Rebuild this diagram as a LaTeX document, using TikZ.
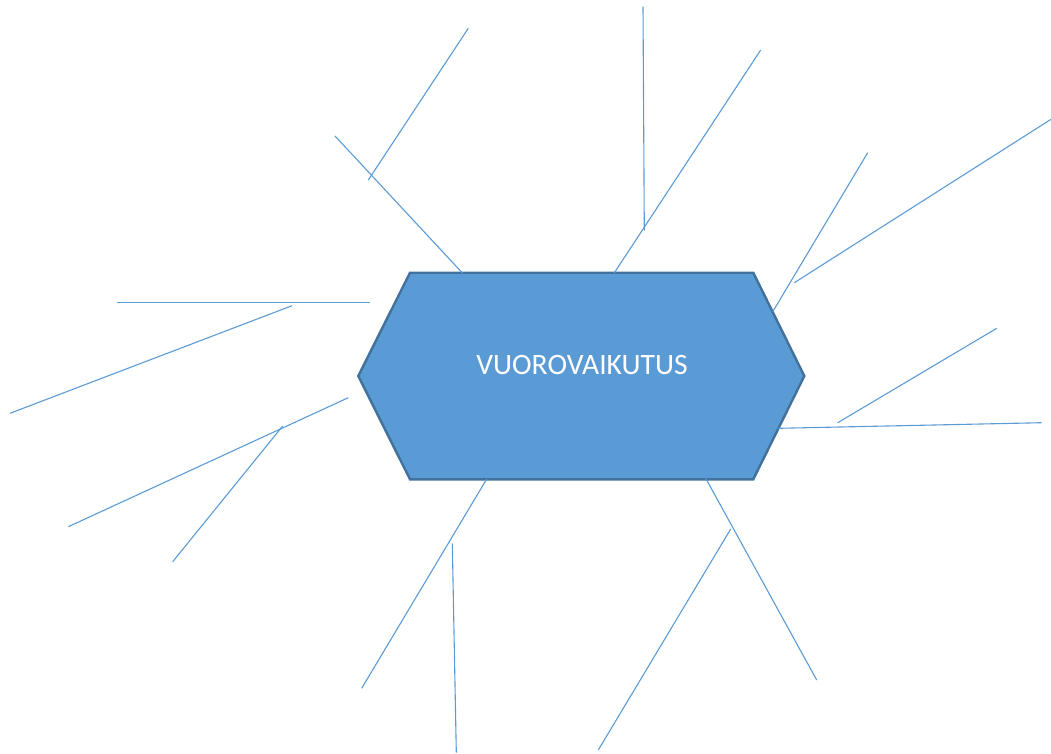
\documentclass[tikz,border=0pt]{standalone}
\usepackage{fontspec}
\setmainfont{Carlito}
\definecolor{lineblue}{HTML}{5B9BD5}
\definecolor{hexfill}{HTML}{5B9BD5}
\definecolor{hexedge}{HTML}{41719C}
\begin{document}
\begin{tikzpicture}[x=1pt,y=-1pt,
  spoke/.style={draw=lineblue,line width=1.1pt},
  hexshape/.style={fill=hexfill,draw=hexedge,line width=2.4pt,line join=miter},
  hextext/.style={text=white,font=\fontsize{29.6}{34}\selectfont,inner sep=0pt}]
\useasboundingbox (0,0) rectangle (1051,753);
% hexagon
\coordinate (h1) at (410,272.7);
\coordinate (h2) at (753.3,272.7);
\coordinate (h3) at (804.3,376);
\coordinate (h4) at (753.3,479.3);
\coordinate (h5) at (410,479.3);
\coordinate (h6) at (358.3,376);
\path[hexshape] (h1) -- (h2) -- (h3) -- (h4) -- (h5) -- (h6) -- cycle;
\node[hextext] (center) at (582,365) {VUOROVAIKUTUS};
% spokes
\coordinate (a1) at (468.3,28.3);   \coordinate (a2) at (368.3,180);
\coordinate (b1) at (335,136);      \coordinate (b2) at (462.7,273.3);
\coordinate (c1) at (643,6.7);      \coordinate (c2) at (644.3,230.7);
\coordinate (d1) at (760.7,50);     \coordinate (d2) at (614,273.3);
\coordinate (e1) at (867.7,152.7);  \coordinate (e2) at (772.7,311.7);
\coordinate (f1) at (1051,119.3);   \coordinate (f2) at (794.3,282.7);
\coordinate (g1) at (996.7,328.3);  \coordinate (g2) at (837.7,422.7);
\coordinate (k1) at (1041.7,422.7); \coordinate (k2) at (778.3,428.3);
\coordinate (i1) at (116.7,302.7);  \coordinate (i2) at (370,302.7);
\coordinate (j1) at (292,305.7);    \coordinate (j2) at (10,413.3);
\coordinate (l1) at (348.3,397.7);  \coordinate (l2) at (68.3,526.7);
\coordinate (m1) at (282.7,426);    \coordinate (m2) at (172.7,561.7);
\coordinate (n1) at (486.7,479);    \coordinate (n2) at (361.7,688.3);
\coordinate (o1) at (452.3,543.3);  \coordinate (o2) at (456.3,752.7);
\coordinate (p1) at (705.7,478.3);  \coordinate (p2) at (816.7,680);
\coordinate (q1) at (730.7,529);    \coordinate (q2) at (598.3,750);
\foreach \s in {a,b,c,d,e,f,g,k,i,j,l,m,n,o,p,q}
  \draw[spoke] (\s1) -- (\s2);
\end{tikzpicture}
\end{document}
